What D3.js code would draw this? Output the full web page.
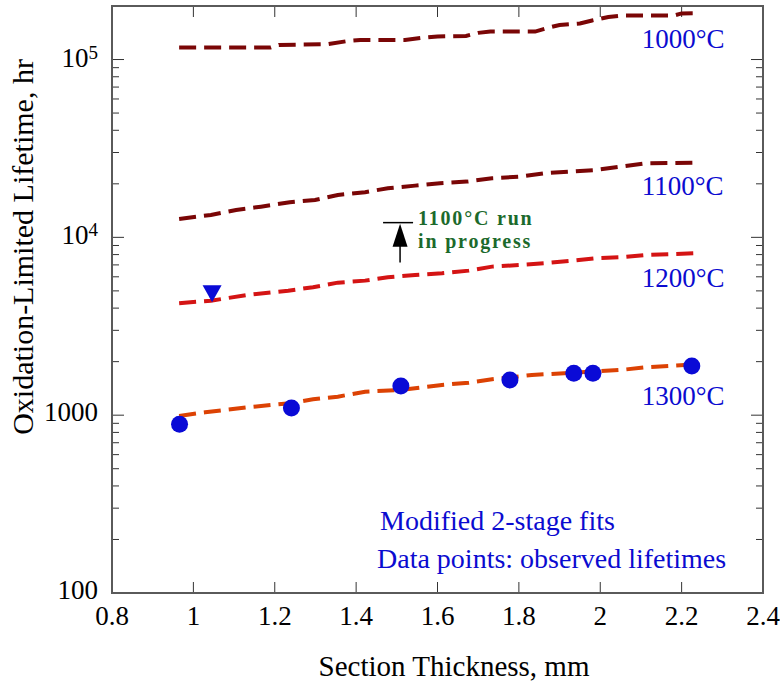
<!DOCTYPE html>
<html>
<head>
<meta charset="utf-8">
<script src="https://cdn.jsdelivr.net/npm/d3@7"></script>
<style>
  body { margin: 0; background: #fff; }
  svg { display: block; font-family: "Liberation Serif", "Times New Roman", serif; }
</style>
</head>
<body>
<svg id="chart" width="780" height="688"></svg>
<script>
// Modified 2-stage fit curves: section thickness (mm) vs. lifetime (hr)
const fit1000X = [0.965, 1.19, 1.21, 1.33, 1.38, 1.41, 1.52, 1.56, 1.60, 1.67, 1.70, 1.73, 1.84, 1.87, 1.90, 1.95, 1.98, 2.02, 2.05, 2.18, 2.20, 2.237];
const fit1000Y = [116700, 116700, 120800, 121900, 127200, 128900, 128900, 132300, 134900, 135800, 141200, 143600, 143600, 150600, 156500, 159600, 165900, 173600, 176600, 176600, 181700, 182200];

const fit1100X = [0.965, 1.043, 1.105, 1.166, 1.237, 1.299, 1.355, 1.422, 1.478, 1.545, 1.606, 1.672, 1.734, 1.803, 1.864, 1.926, 1.989, 2.051, 2.112, 2.238];
const fit1100Y = [12690, 13370, 14260, 14880, 15750, 16230, 17320, 17940, 18890, 19540, 20150, 20580, 21500, 21950, 22940, 23420, 23940, 24980, 26100, 26310];

const fit1200X = [0.965, 1.043, 1.134, 1.233, 1.294, 1.355, 1.422, 1.478, 1.545, 1.611, 1.677, 1.734, 1.803, 1.864, 1.926, 1.989, 2.051, 2.112, 2.238];
const fit1200Y = [4260, 4406, 4743, 5015, 5240, 5563, 5710, 5967, 6147, 6284, 6500, 6845, 6998, 7153, 7370, 7630, 7730, 7962, 8140];

const fit1300X = [0.965, 1.029, 1.134, 1.237, 1.294, 1.355, 1.422, 1.508, 1.611, 1.677, 1.734, 1.832, 1.938, 2.051, 2.112, 2.238];
const fit1300Y = [990, 1038, 1108, 1167, 1229, 1271, 1356, 1386, 1479, 1524, 1592, 1683, 1734, 1796, 1860, 1934];

// Observed lifetimes at 1300°C
const obs1300X = [0.966, 1.241, 1.510, 1.778, 1.935, 1.982, 2.225];
const obs1300Y = [889, 1097, 1459, 1578, 1721, 1721, 1892];

// Observed lifetime at 1200°C
const obs1200X = [1.046];
const obs1200Y = [4850];

// Run still in progress at 1100°C (lower bound and current level)
const runX = [1.508];
const runFromY = [7210];
const runToY = [12100];

const curveLabels = ["1000°C", "1100°C", "1200°C", "1300°C"];
const curveColors = ["#7a0606", "#7a0606", "#d41414", "#dc4204"];

const xTickValues = [0.8, 1, 1.2, 1.4, 1.6, 1.8, 2, 2.2, 2.4];
const xTickLabels = ["0.8", "1", "1.2", "1.4", "1.6", "1.8", "2", "2.2", "2.4"];
const yTickValues = [100, 1000, 10000, 100000];
const yTickLabels = [["100", ""], ["1000", ""], ["10", "4"], ["10", "5"]];

const svg = d3.select("#chart");
const plotLeft = 112, plotRight = 763, plotTop = 6, plotBottom = 593;

const x = d3.scaleLinear().domain([0.8, 2.4]).range([plotLeft, plotRight]);
const y = d3.scaleLog().domain([100, 200000]).range([plotBottom, plotTop]);

const blue = "#0b0bd0";

// Minor ticks (2..9 per decade) on both vertical sides
const minorVals = [];
for (let d = 100; d < 200000; d *= 10) {
  for (let k = 2; k <= 9; k++) {
    const v = d * k;
    if (v < 200000) minorVals.push(v);
  }
}

const tickG = svg.append("g").attr("stroke", "#333").attr("stroke-width", 1);
minorVals.forEach(v => {
  tickG.append("line").attr("x1", plotLeft).attr("x2", plotLeft + 7).attr("y1", y(v)).attr("y2", y(v));
  tickG.append("line").attr("x1", plotRight).attr("x2", plotRight - 7).attr("y1", y(v)).attr("y2", y(v));
});
yTickValues.forEach(v => {
  tickG.append("line").attr("x1", plotLeft).attr("x2", plotLeft + 12).attr("y1", y(v)).attr("y2", y(v));
  tickG.append("line").attr("x1", plotRight).attr("x2", plotRight - 12).attr("y1", y(v)).attr("y2", y(v));
});
xTickValues.forEach(v => {
  tickG.append("line").attr("x1", x(v)).attr("x2", x(v)).attr("y1", plotBottom).attr("y2", plotBottom - 11);
  tickG.append("line").attr("x1", x(v)).attr("x2", x(v)).attr("y1", plotTop).attr("y2", plotTop + 11);
});

// Plot frame
svg.append("rect")
  .attr("x", plotLeft).attr("y", plotTop)
  .attr("width", plotRight - plotLeft).attr("height", plotBottom - plotTop)
  .attr("fill", "none").attr("stroke", "#5a5a5a").attr("stroke-width", 2);

// X tick labels
svg.append("g").selectAll("text")
  .data(xTickValues)
  .join("text")
  .attr("x", d => x(d))
  .attr("y", 625)
  .attr("text-anchor", "middle")
  .attr("font-size", 27)
  .attr("fill", "#000")
  .text((d, i) => xTickLabels[i]);

// Y tick labels (powers of ten written with superscripts)
const yl = svg.append("g");
yTickValues.forEach((v, i) => {
  const [base, sup] = yTickLabels[i];
  const t = yl.append("text")
    .attr("x", 98)
    .attr("y", y(v) + (sup ? 7 : 6))
    .attr("text-anchor", "end")
    .attr("font-size", 27)
    .attr("fill", "#000");
  t.append("tspan").text(base);
  if (sup) t.append("tspan").attr("font-size", 19).attr("dy", -8).text(sup);
});

// Axis titles
svg.append("text")
  .attr("x", 454).attr("y", 676)
  .attr("text-anchor", "middle")
  .attr("font-size", 29)
  .text("Section Thickness, mm");

svg.append("text")
  .attr("transform", "translate(33,247) rotate(-90)")
  .attr("text-anchor", "middle")
  .attr("font-size", 30)
  .text("Oxidation-Limited Lifetime, hr");

// Fit curves
const fits = [
  [fit1000X, fit1000Y],
  [fit1100X, fit1100Y],
  [fit1200X, fit1200Y],
  [fit1300X, fit1300Y]
];
const line = d3.line().x(d => x(d[0])).y(d => y(d[1]));
fits.forEach(([xs, ys], i) => {
  svg.append("path")
    .datum(xs.map((v, j) => [v, ys[j]]))
    .attr("d", line)
    .attr("fill", "none")
    .attr("stroke", curveColors[i])
    .attr("stroke-width", 4)
    .attr("stroke-dasharray", "17,8");
});

// Curve labels
const labelBase = [48, 195, 287, 405];
curveLabels.forEach((t, i) => {
  svg.append("text")
    .attr("x", x(2.102))
    .attr("y", labelBase[i])
    .attr("font-size", 27)
    .attr("fill", blue)
    .text(t);
});

// Observed 1300°C lifetimes
svg.append("g").selectAll("ellipse")
  .data(obs1300X.map((v, i) => [v, obs1300Y[i]]))
  .join("ellipse")
  .attr("cx", d => x(d[0]))
  .attr("cy", d => y(d[1]))
  .attr("rx", 8.5)
  .attr("ry", 8.5)
  .attr("fill", "#0a0ad6");

// Observed 1200°C lifetime (down triangle)
svg.append("g").selectAll("path")
  .data(obs1200X.map((v, i) => [v, obs1200Y[i]]))
  .join("path")
  .attr("d", d => {
    const cx = x(d[0]), cy = y(d[1]);
    return `M${cx - 9.5},${cy - 8}L${cx + 9.5},${cy - 8}L${cx},${cy + 9}Z`;
  })
  .attr("fill", "#0a0ad6");

// In-progress run marker: bar with upward arrow
runX.forEach((v, i) => {
  const ax = x(v), y0 = y(runFromY[i]), y1 = y(runToY[i]);
  const g = svg.append("g");
  g.append("line").attr("x1", ax - 17).attr("x2", ax + 13).attr("y1", y1).attr("y2", y1)
    .attr("stroke", "#000").attr("stroke-width", 1.5);
  g.append("line").attr("x1", ax).attr("x2", ax).attr("y1", y0).attr("y2", y1 + 20)
    .attr("stroke", "#000").attr("stroke-width", 1.5);
  g.append("path")
    .attr("d", `M${ax},${y1 + 1}L${ax - 7.5},${y1 + 24}L${ax + 7.5},${y1 + 24}Z`)
    .attr("fill", "#000");
  const tg = g.append("g")
    .attr("font-size", 20)
    .attr("font-weight", "bold")
    .attr("letter-spacing", 1.8)
    .attr("fill", "#1c6a2c");
  tg.append("text").attr("x", ax + 18).attr("y", y1 + 2).text("1100°C run");
  tg.append("text").attr("x", ax + 18).attr("y", y1 + 25).text("in progress");
});

// Notes
svg.append("text").attr("x", 380).attr("y", 530)
  .attr("font-size", 28).attr("fill", blue)
  .text("Modified 2-stage fits");
svg.append("text").attr("x", 377).attr("y", 568)
  .attr("font-size", 28).attr("fill", blue)
  .text("Data points: observed lifetimes");
</script>
</body>
</html>
